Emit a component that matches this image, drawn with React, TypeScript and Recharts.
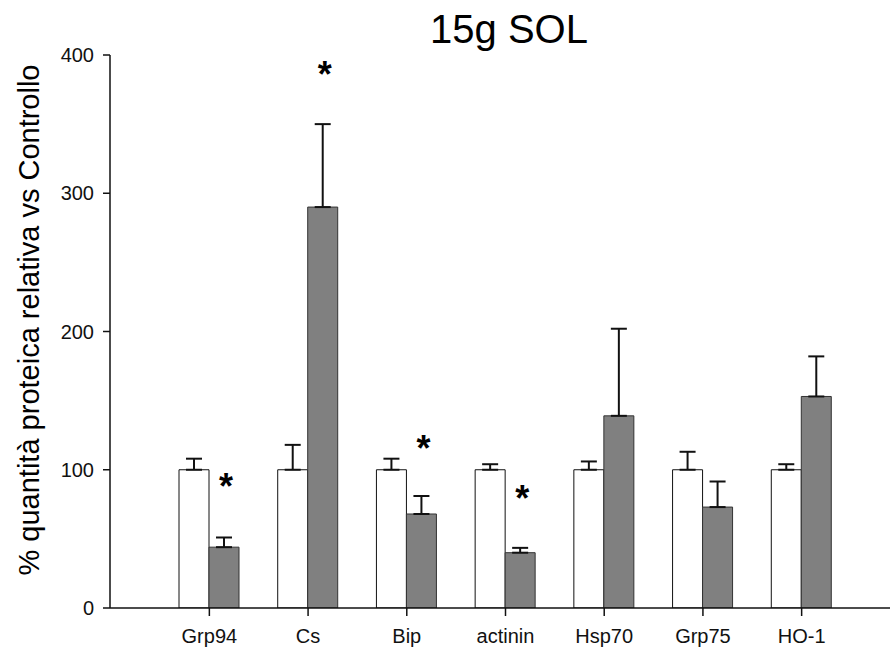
import { BarChart, Bar, XAxis, YAxis, ErrorBar, Label } from 'recharts';

const categories = ['Grp94', 'Cs', 'Bip', 'actinin', 'Hsp70', 'Grp75', 'HO-1'];
const controllo = [100, 100, 100, 100, 100, 100, 100];
const controlloSem = [8, 18, 8, 4, 6, 13, 4];
const trattato = [44, 290, 68, 40, 139, 73, 153];
const trattatoSem = [7, 60, 13, 3.5, 63, 18.5, 29];
// where the significance star sits (in axis units), null = no star
const starAt: (number | null)[] = [90, 388, 117, 81, null, null, null];
const yTicks = [0, 100, 200, 300, 400];

const data = categories.map((name, i) => ({
  name,
  ctrl: controllo[i],
  ctrlErr: [0, controlloSem[i]],
  trt: trattato[i],
  trtErr: [0, trattatoSem[i]],
  star: starAt[i],
}));

const FONT = '"Liberation Sans", Arial, sans-serif';

function Star(props: any) {
  const vb = props.viewBox || props;
  const { index } = props;
  const s = starAt[index];
  if (s == null) return null;
  const { x, y, width, height } = vb;
  const perUnit = height / trattato[index];
  const cy = y + height - s * perUnit;
  return (
    <text
      x={x + width / 2 + 2}
      y={cy + 15}
      textAnchor="middle"
      fontFamily={FONT}
      fontWeight="bold"
      fontSize={36}
      fill="#000"
    >
      *
    </text>
  );
}

function YLabel() {
  return (
    <text
      x={29}
      y={320}
      transform="rotate(-90 29 320)"
      textAnchor="middle"
      dominantBaseline="central"
      fontFamily={FONT}
      fontSize={29}
      fill="#000"
    >
      % quantità proteica relativa vs Controllo
    </text>
  );
}

export default function App() {
  return (
    <div style={{ position: 'absolute', left: 0, top: 0, width: 891, height: 653, background: '#fff' }}>
      <div
        style={{
          position: 'absolute',
          left: 309,
          top: 9,
          width: 400,
          textAlign: 'center',
          fontFamily: FONT,
          fontSize: 40,
          lineHeight: 1,
          color: '#000',
        }}
      >
        15g SOL
      </div>
      <BarChart
        width={891}
        height={653}
        data={data}
        margin={{ top: 55, right: 1, bottom: 5, left: 0 }}
        barSize={30}
        barGap={0}
      >
        <XAxis
          dataKey="name"
          height={40}
          padding={{ left: 50, right: 39 }}
          axisLine={{ stroke: '#111', strokeWidth: 1.5 }}
          tickLine={{ stroke: '#111', strokeWidth: 1.5 }}
          tickSize={8}
          tickMargin={13}
          tick={{ fontFamily: FONT, fontSize: 20, fill: '#111' }}
        />
        <YAxis
          width={110}
          domain={[0, 400]}
          ticks={yTicks}
          allowDataOverflow
          axisLine={{ stroke: '#111', strokeWidth: 1.5 }}
          tickLine={{ stroke: '#111', strokeWidth: 1.5 }}
          tickSize={7}
          tickMargin={9}
          tick={{ fontFamily: FONT, fontSize: 20, fill: '#111' }}
        >
          <Label content={<YLabel />} />
        </YAxis>
        <Bar dataKey="ctrl" fill="#fff" stroke="#111" strokeWidth={1} isAnimationActive={false}>
          <ErrorBar dataKey="ctrlErr" width={8} stroke="#111" strokeWidth={2} direction="y" />
        </Bar>
        <Bar
          dataKey="trt"
          fill="#808080"
          stroke="#333"
          strokeWidth={1}
          isAnimationActive={false}
          label={<Star />}
        >
          <ErrorBar dataKey="trtErr" width={8} stroke="#111" strokeWidth={2} direction="y" />
        </Bar>
      </BarChart>
    </div>
  );
}
